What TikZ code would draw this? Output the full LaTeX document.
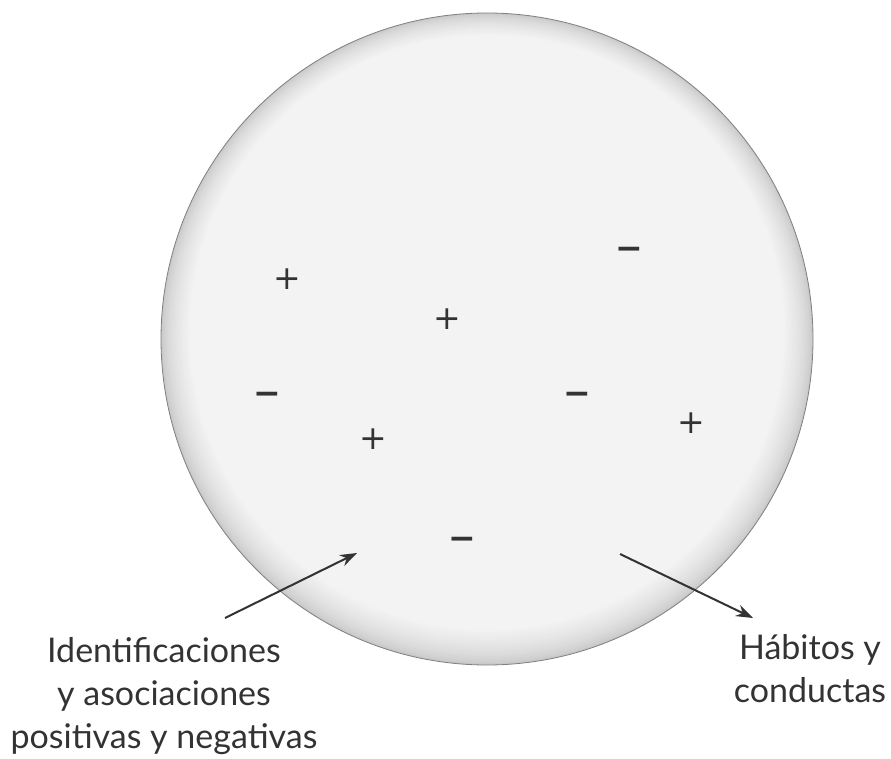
\documentclass[tikz,border=0pt]{standalone}
\usepackage{fontspec}
\setmainfont{Lato}
\newfontfamily\symfont{DejaVu Sans}
\usetikzlibrary{arrows.meta}
\definecolor{ink}{HTML}{333333}
\definecolor{discin}{HTML}{F3F3F3}
\definecolor{discedge}{HTML}{C6C6C6}
\definecolor{rim}{HTML}{808080}
\begin{document}
\begin{tikzpicture}[x=1pt,y=-1pt,
  lbl/.style={font=\fontsize{34}{43}\selectfont, text=ink, align=center, inner sep=0pt},
  plus/.style={font=\symfont\fontsize{33}{33}\selectfont, text=ink, inner sep=0pt, anchor=base, yshift=-11.9pt},
  minus/.style={font=\symfont\bfseries\fontsize{33}{33}\selectfont, text=ink, inner sep=0pt, anchor=base, yshift=-11.9pt},
  arr/.style={draw=ink, line width=2pt, -{Stealth[length=17pt,width=12pt]}}]
\useasboundingbox (0,0) rectangle (891,759);
% shaded disc: nested fills emulating a radial gradient with a raised centre
\foreach \i in {0,...,24}{
  \pgfmathsetmacro\pp{100*(\i/24)^0.6}
  \pgfmathsetmacro\rr{326-1.2*\i}
  \pgfmathsetmacro\cyy{339-0.28*\i}
  \fill[discin!\pp!discedge] (487,\cyy) circle[radius=\rr];
}
\node[circle, minimum size=652pt, inner sep=0pt, draw=rim, line width=0.8pt] (disc) at (487,339) {};
\node[plus] (p1) at (287,278) {+};
\node[plus] (p2) at (447,318) {+};
\node[plus] (p3) at (373,438) {+};
\node[plus] (p4) at (691,422) {+};
\node[minus] (m1) at (629,248) {−};
\node[minus] (m2) at (267,393) {−};
\node[minus] (m3) at (577,393) {−};
\node[minus] (m4) at (462,538) {−};
\node[lbl, anchor=base] (ltext) at (164,748) {Identificaciones\\y asociaciones\\positivas y negativas};
\node[lbl, anchor=base] (rtext) at (810,702) {Hábitos y\\conductas};
\coordinate (lt) at (225,618);
\coordinate (lh) at (357,553);
\coordinate (rt) at (620,554);
\coordinate (rh) at (753,618);
\draw[arr] (lt) -- (lh);
\draw[arr] (rt) -- (rh);
\end{tikzpicture}
\end{document}
